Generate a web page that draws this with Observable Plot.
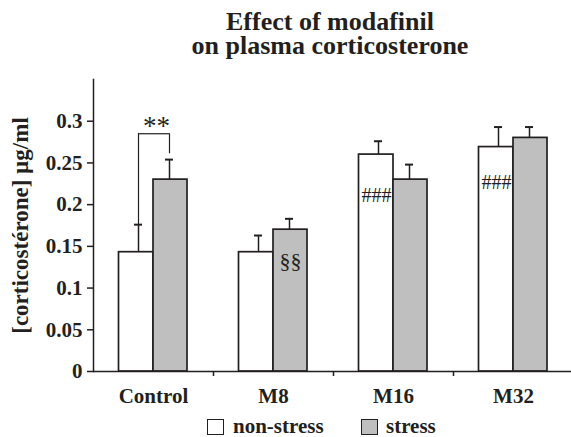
<!DOCTYPE html>
<html>
<head>
<meta charset="utf-8">
<script src="https://cdn.jsdelivr.net/npm/d3@7"></script>
<script src="https://cdn.jsdelivr.net/npm/@observablehq/plot@0.6"></script>
<style>
  body { margin: 0; background: #fff; }
  #wrap { position: relative; width: 571px; height: 437px; overflow: hidden; font-family: "Liberation Serif", serif; color: #231f20; }
  #title { position: absolute; left: 90px; width: 480px; top: 10px; text-align: center; font-weight: bold; font-size: 26px; line-height: 23.5px; }
  #chart { position: absolute; left: 0; top: 68px; }
  .sw { position: absolute; top: 419px; width: 15px; height: 14px; border: 1.5px solid #231f20; }
  .lt { position: absolute; top: 416px; font-weight: bold; font-size: 21px; line-height: 21px; white-space: nowrap; }
</style>
</head>
<body>
<div id="wrap">
  <div id="title">Effect of modafinil<br>on plasma corticosterone</div>
  <div id="chart"></div>
</div>
<script>
const groups = ["Control", "M8", "M16", "M32"];
const seriesNames = ["non-stress", "stress"];
const seriesColors = ["#ffffff", "#bfbfbf"];
const nonStress = [0.143, 0.143, 0.260, 0.269];
const nonStressErr = [0.033, 0.020, 0.016, 0.024];
const stress = [0.230, 0.170, 0.230, 0.280];
const stressErr = [0.024, 0.013, 0.018, 0.013];
const yTicks = [0, 0.05, 0.1, 0.15, 0.2, 0.25, 0.3];
const yLabel = "[corticostérone] µg/ml";
const starGroup = ["Control"];
const starText = "**";
const starY = [0.294];
const bracketY = 0.285;
const bracketRightFoot = 0.261;
const hashGroups = ["M16", "M32"];
const hashY = [0.211, 0.227];
const sectGroups = ["M8"];
const sectY = [0.133];

const ink = "#231f20";
const ns = groups.map((g, i) => ({group: g, value: nonStress[i], err: nonStressErr[i]}));
const st = groups.map((g, i) => ({group: g, value: stress[i], err: stressErr[i]}));

const chart = Plot.plot({
  width: 571,
  height: 344,
  marginTop: 11,
  marginBottom: 41,
  marginLeft: 93,
  marginRight: -2,
  style: {fontFamily: "Liberation Serif", fontWeight: "bold", fontSize: "21px", color: ink, background: "transparent"},
  x: {domain: groups, padding: 0, label: null},
  y: {domain: [0, 0.35], label: null},
  marks: [
    Plot.barY(ns, {x: "group", y: "value", fill: seriesColors[0], stroke: ink, strokeWidth: 1.7, insetLeft: 25.5, insetRight: 60}),
    Plot.barY(st, {x: "group", y: "value", fill: seriesColors[1], stroke: ink, strokeWidth: 1.7, insetLeft: 60, insetRight: 26}),
    Plot.ruleX(ns, {x: "group", y1: "value", y2: d => d.value + d.err, dx: -15, stroke: ink, strokeWidth: 1.5}),
    Plot.tickY(ns, {x: "group", y: d => d.value + d.err, dx: -15, insetLeft: 56, insetRight: 56, stroke: ink, strokeWidth: 2}),
    Plot.ruleX(st, {x: "group", y1: "value", y2: d => d.value + d.err, dx: 16, stroke: ink, strokeWidth: 1.5}),
    Plot.tickY(st, {x: "group", y: d => d.value + d.err, dx: 16, insetLeft: 56, insetRight: 56, stroke: ink, strokeWidth: 2}),
    // significance bracket
    Plot.ruleX(starGroup, {x: d => d, y1: () => nonStress[0] + nonStressErr[0], y2: () => bracketY, dx: -15, stroke: ink, strokeWidth: 1.2}),
    Plot.ruleX(starGroup, {x: d => d, y1: () => bracketRightFoot, y2: () => bracketY, dx: 16, stroke: ink, strokeWidth: 1.2}),
    Plot.tickY(starGroup, {x: d => d, y: () => bracketY, insetLeft: 45, insetRight: 44, stroke: ink, strokeWidth: 1.2}),
    Plot.text(starGroup, {x: d => d, y: (d, i) => starY[i], text: () => starText, dx: 3, fontSize: 27, fontWeight: "normal", fill: ink}),
    Plot.text(hashGroups, {x: d => d, y: (d, i) => hashY[i], text: () => "###", dx: -17, fontSize: 20, fontWeight: "normal", fill: ink}),
    Plot.text(sectGroups, {x: d => d, y: (d, i) => sectY[i], text: () => "§§", dx: 17, fontSize: 22, fontWeight: "normal", fill: ink}),
    // axes
    Plot.ruleY([0], {stroke: ink, strokeWidth: 1.5}),
    Plot.frame({anchor: "left", stroke: ink, strokeWidth: 1.5}),
    Plot.axisY({ticks: yTicks, tickFormat: d => String(d), tickSize: 6, tickPadding: 5, label: null, strokeWidth: 1.5}),
    Plot.axisX({tickSize: 0, tickPadding: 17, label: null}),
    Plot.axisX({ticks: groups.slice(1), tickSize: 5, tickFormat: () => "", dx: -60, label: null, strokeWidth: 1.5}),
    Plot.text([yLabel], {frameAnchor: "left", textAnchor: "middle", rotate: -90, dx: -73, fontSize: 23, fill: ink})
  ]
});
document.getElementById("chart").appendChild(chart);

// legend
const wrap = document.getElementById("wrap");
const swX = [207, 361];
const txX = [233, 386];
seriesNames.forEach((name, i) => {
  const sw = document.createElement("div");
  sw.className = "sw";
  sw.style.left = swX[i] + "px";
  sw.style.background = seriesColors[i];
  wrap.appendChild(sw);
  const t = document.createElement("div");
  t.className = "lt";
  t.style.left = txX[i] + "px";
  t.textContent = name;
  wrap.appendChild(t);
});
</script>
</body>
</html>
